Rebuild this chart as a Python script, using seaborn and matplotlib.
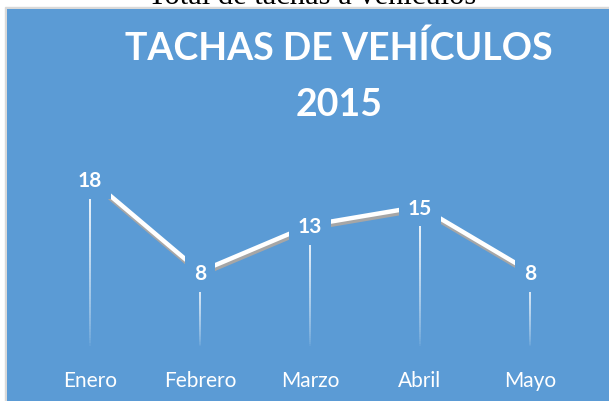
import matplotlib
matplotlib.use('Agg')
import matplotlib.pyplot as plt
import seaborn as sns
import pandas as pd
import numpy as np
from matplotlib import patheffects as pe
from matplotlib.patches import Rectangle

months = ['Enero', 'Febrero', 'Marzo', 'Abril', 'Mayo']
values = [18, 8, 13, 15, 8]
title_line1 = 'TACHAS DE VEHÍCULOS'
title_line2 = '2015'
caption = 'Total de tachas a vehículos'

BLUE = '#5B9BD5'
W, H = 609, 402

sns.set_style('white')
plt.rcParams['font.family'] = ['Lato', 'DejaVu Sans']

fig = plt.figure(figsize=(W / 100, H / 100), dpi=100)
fig.patch.set_facecolor('white')

# light gray frame around the chart area
fig.patches.append(Rectangle((5 / W, 0), (W - 5) / W, (H - 8) / H,
                             transform=fig.transFigure, color='#d9d9d9', zorder=0))

# caption cut off at the top (as in the reference)
fig.text(312 / W, 1 - 4.5 / H, caption, ha='center', va='baseline',
         fontsize=22, family=['Liberation Serif'], color='black', zorder=0)

ax = fig.add_axes([7 / W, 0, (W - 7) / W, (H - 10) / H], zorder=2)
ax.set_facecolor(BLUE)

df = pd.DataFrame({'mes': months, 'n': values})
df['i'] = np.arange(len(df))

# drop lines with fade toward the bottom
N = 60
for i, v in zip(df['i'], df['n']):
    ys = np.linspace(0, v, N + 1)
    for k in range(N):
        a = 0.05 + 0.9 * (k / N) ** 0.7
        ax.plot([i, i], [ys[k], ys[k + 1]], color='white', lw=1.44, alpha=a,
                solid_capstyle='butt', antialiased=False, zorder=2)

sns.lineplot(data=df, x='i', y='n', ax=ax, color='white', lw=3.2,
             solid_capstyle='butt', zorder=3,
             path_effects=[pe.SimpleLineShadow(offset=(0.6, -2.2),
                                               shadow_color='#a6a6a6', alpha=1),
                           pe.Normal()])

for i, v in zip(df['i'], df['n']):
    ax.annotate(str(v), (i, v), xytext=(0, -5.2), textcoords='offset points',
                ha='center', va='baseline', fontsize=15, fontweight='bold',
                color='white', zorder=6,
                bbox=dict(boxstyle='square,pad=0.42', fc=BLUE, ec='none'))

ax.set_xlim(-(90 - 7) / 110, 4 + (609 - 530) / 110)
ax.set_ylim(-(402 - 347) / 9.3, (347 - 10) / 9.3)

for s in ax.spines.values():
    s.set_visible(False)
ax.spines['bottom'].set_position(('data', 0))
ax.set_xticks(df['i'])
ax.set_xticklabels(months)
ax.tick_params(axis='x', length=0, pad=17, labelsize=15, labelcolor='white')
ax.set_yticks([])
ax.set_xlabel('')
ax.set_ylabel('')

fig.text(339 / W, 1 - 60 / H, title_line1, ha='center', va='baseline',
         fontsize=27, fontweight='bold', color='white', zorder=5)
fig.text(339 / W, 1 - 116 / H, title_line2, ha='center', va='baseline',
         fontsize=27, fontweight='bold', color='white', zorder=5)

fig.savefig('out.png', dpi=100, facecolor=fig.get_facecolor())
